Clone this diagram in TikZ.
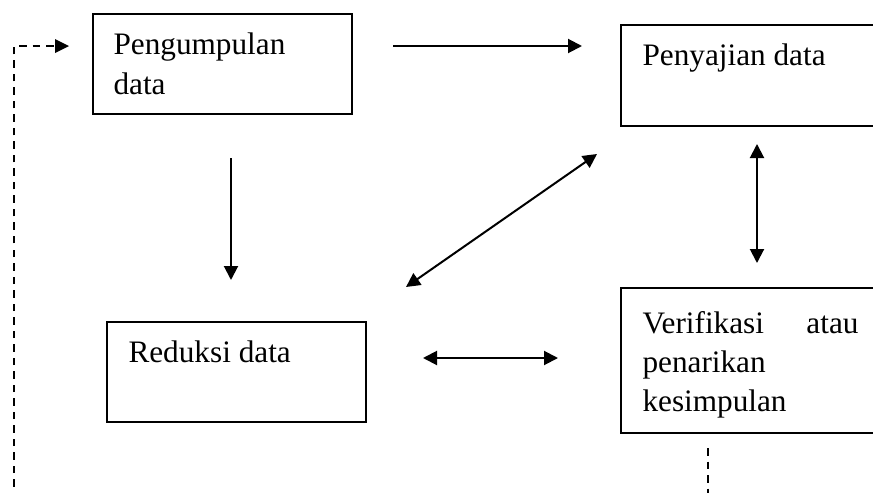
\documentclass[tikz,border=0pt]{standalone}
\usepackage{fontspec}
\setmainfont{Liberation Serif}
\usetikzlibrary{arrows.meta}
\begin{document}
\begin{tikzpicture}[x=0.4pt,y=-0.4pt,
  box/.style={draw,line width=0.8pt,inner sep=0pt,outer sep=0pt,anchor=north west},
  lbl/.style={inner sep=0pt,anchor=base west,align=left,font=\fontsize{12.5pt}{15.6pt}\selectfont},
  conn/.style={line width=0.8pt,-{Triangle[length=5.6pt,width=5.6pt]}},
  both/.style={line width=0.8pt,{Triangle[length=5.6pt,width=5.6pt]}-{Triangle[length=5.6pt,width=5.6pt]}},
  dashline/.style={line width=0.8pt,dash pattern=on 3pt off 2.4pt}]
\useasboundingbox (0,0) rectangle (873,493);
\clip (0,0) rectangle (873,493);
% boxes
\node[box,minimum width=103.6pt,minimum height=40pt] (b1) at (93,14) {};
\node[box,minimum width=103.6pt,minimum height=40.4pt] (b2) at (621,25) {};
\node[box,minimum width=103.6pt,minimum height=58pt] (b3) at (621,288) {};
\node[box,minimum width=103.6pt,minimum height=40pt] (b4) at (107,322) {};
% labels (anchored at the baseline of their last line)
\node[lbl] (t1) at (113,94) {Pengumpulan\\data};
\node[lbl] (t2) at (642,65) {Penyajian data};
\node[lbl] (t3) at (642,411) {\makebox[86.4pt][s]{Verifikasi\hfill atau}\\penarikan\\kesimpulan};
\node[lbl] (t4) at (128,362) {Reduksi data};
% connector end points
\coordinate (a1s) at (393,46); \coordinate (a1e) at (582,46);
\coordinate (a2s) at (231,158); \coordinate (a2e) at (231,280);
\coordinate (a3s) at (406,287); \coordinate (a3e) at (597,154);
\coordinate (a4s) at (757,144); \coordinate (a4e) at (757,263);
\coordinate (a5s) at (423,358); \coordinate (a5e) at (558,358);
\coordinate (d1) at (14,500); \coordinate (d2) at (14,46); \coordinate (d3) at (69,46);
\coordinate (d4) at (708,448); \coordinate (d5) at (708,500);
% connectors
\draw[conn] (a1s) -- (a1e);
\draw[conn] (a2s) -- (a2e);
\draw[both] (a3s) -- (a3e);
\draw[both] (a4s) -- (a4e);
\draw[both] (a5s) -- (a5e);
\draw[dashline] (d1) -- (d2) -- ([xshift=-2pt]d3);
\fill ([xshift=-5.6pt,yshift=2.8pt]d3) -- (d3) -- ([xshift=-5.6pt,yshift=-2.8pt]d3) -- cycle;
\draw[dashline] (d4) -- (d5);
\end{tikzpicture}
\end{document}
